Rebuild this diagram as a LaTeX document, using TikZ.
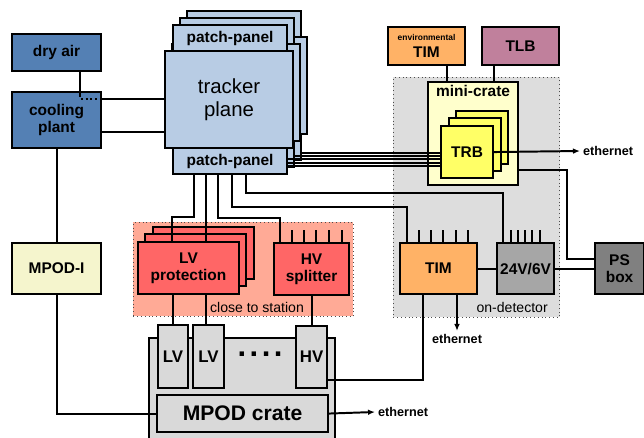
\documentclass[tikz,border=0pt]{standalone}
\usepackage{fontspec}
\setmainfont{Liberation Sans}
\usetikzlibrary{arrows.meta}

\tikzset{
  bx/.style={draw, line width=1.5pt, rectangle, inner sep=0pt, align=center, anchor=north west, font=\fontsize{11}{12}\selectfont\bfseries},
  sz/.style 2 args={minimum width=#1*0.025cm, minimum height=#2*0.025cm},
  region/.style={draw=black!70, dotted, line width=0.7pt, rectangle, inner sep=0pt, anchor=north west},
  wire/.style={line width=1.4pt},
  eth/.style={font=\fontsize{9}{10}\selectfont\bfseries, inner sep=2pt},
  lbl/.style={font=\fontsize{10}{11}\selectfont, inner sep=0pt},
}

\begin{document}
\begin{tikzpicture}[x=0.025cm, y=-0.025cm]
%
\useasboundingbox (0,0) rectangle (644,438);
%
\definecolor{cdry}{RGB}{84,128,180}
\definecolor{ctrk}{RGB}{184,204,228}
\definecolor{ctim}{RGB}{255,178,102}
\definecolor{ctlb}{RGB}{192,128,156}
\definecolor{cmini}{RGB}{255,255,204}
\definecolor{ctrb}{RGB}{255,255,102}
\definecolor{cdet}{RGB}{221,221,221}
\definecolor{cstat}{RGB}{255,170,150}
\definecolor{cprot}{RGB}{255,102,102}
\definecolor{cvolt}{RGB}{166,166,166}
\definecolor{cps}{RGB}{128,128,128}
\definecolor{cmpod}{RGB}{217,217,217}
\definecolor{cmpodi}{RGB}{245,245,205}
%
\node[region, fill=cdet, sz={166}{240}] (ondet) at (393,77) {};
\node[region, fill=cstat, sz={220}{94}] (station) at (133,222) {};
\node[lbl, anchor=east] (ondetlbl) at (548,307) {on-detector};
\node[lbl] (stationlbl) at (257,307) {close to station};
%
\node[bx, fill=cdry, sz={89}{37}] (dryair) at (11,33) {dry air};
\node[bx, fill=cdry, sz={89}{56}] (cooling) at (11,91) {cooling\\plant};
\node[bx, fill=cmpodi, sz={89}{51}] (mpodi) at (11,242) {MPOD-I};
%
\node[bx, fill=ctrk, sz={114}{26}] (ppt2) at (186,10) {};
\node[bx, fill=ctrk, sz={114}{26}] (ppb2) at (186,133) {};
\node[bx, fill=ctrk, sz={128}{97}] (trk2) at (178,36) {};
\node[bx, fill=ctrk, sz={114}{26}] (ppt1) at (179,17) {};
\node[bx, fill=ctrk, sz={114}{26}] (ppb1) at (179,140) {};
\node[bx, fill=ctrk, sz={128}{97}] (trk1) at (171,43) {};
\node[bx, fill=ctrk, sz={114}{26}] (ppt0) at (172,24) {patch-panel};
\node[bx, fill=ctrk, sz={114}{26}] (ppb0) at (172,147) {patch-panel};
\node[bx, fill=ctrk, sz={128}{97}, font=\fontsize{14.5}{16.5}\selectfont] (trk0) at (164,50) {tracker\\plane};
%
\node[bx, fill=ctim, sz={77}{38}] (envtim) at (387,26) {{\fontsize{6}{7}\selectfont environmental}\\TIM};
\node[bx, fill=ctlb, sz={77}{38}] (tlb) at (481,26) {TLB};
\node[bx, fill=cmini, sz={90}{103}, label={[font=\fontsize{11}{12}\selectfont\bfseries, anchor=north, inner sep=3pt]north:mini-crate}] (minicrate) at (427,81) {};
\node[bx, fill=ctrb, sz={52}{53}] (trb2) at (455,110) {};
\node[bx, fill=ctrb, sz={52}{53}] (trb1) at (448,117) {};
\node[bx, fill=ctrb, sz={52}{52}] (trb0) at (440,125) {TRB};
%
\node[bx, fill=ctim, sz={77}{51}] (tim) at (399,242) {TIM};
\node[bx, fill=cvolt, sz={57}{51}] (volt) at (496,242) {24V/6V};
\node[bx, fill=cps, sz={49}{51}] (psbox) at (594,242) {PS\\box};
%
\node[bx, fill=cprot, sz={101}{52}] (prot2) at (152,226) {};
\node[bx, fill=cprot, sz={101}{52}] (prot1) at (144,233) {};
\node[bx, fill=cprot, sz={101}{52}] (prot0) at (137,241) {LV\\protection};
\node[bx, fill=cprot, sz={75}{52}] (hvsplit) at (273,242) {HV\\splitter};
%
\node[bx, fill=cmpod, sz={186}{101}] (crate) at (148,337) {};
\node[bx, fill=cmpod, sz={30}{63}, font=\fontsize{12}{13}\selectfont\bfseries] (lv1) at (157,324) {LV};
\node[bx, fill=cmpod, sz={31}{63}, font=\fontsize{12}{13}\selectfont\bfseries] (lv2) at (192,324) {LV};
\node[bx, fill=cmpod, sz={31}{62}, font=\fontsize{12}{13}\selectfont\bfseries] (hv) at (295,325) {HV};
\node[font=\fontsize{22}{22}\selectfont\bfseries, inner sep=0pt] (dots) at (260,354) {.\hspace{2.5pt}.\hspace{2.5pt}.\hspace{2.5pt}.};
\node[bx, fill=cmpod, sz={171}{37}, font=\fontsize{15}{16}\selectfont\bfseries] (mpod) at (156,394) {MPOD crate};
%
\node[eth, anchor=west] (eth1) at (580,151) {ethernet};
\node[eth, anchor=north] (eth2) at (457,331) {ethernet};
\node[eth, anchor=west] (eth3) at (375,412) {ethernet};
%
\coordinate (dryin) at (80,95);
\draw[wire] (dryair.south -| dryin) -- (dryin);
\draw[wire, dotted] (dryin) |- (cooling.east |- 0,99);
\draw[wire] (cooling.east |- 0,99) -- (trk0.west |- 0,99);
\draw[wire] (cooling.east |- 0,132) -- (trk0.west |- 0,132);
\draw[wire] (cooling.south) -- (mpodi.north);
\draw[wire] (mpodi.south) |- (mpod.west);
\draw[wire, -{Latex[length=5pt,width=4pt]}] (mpod.east) -- (eth3.west);
%
\draw[wire] (ppb2.east |- 0,153) -- (trb0.west |- 0,153);
\draw[wire] (ppb1.east |- 0,156) -- (trb0.west |- 0,156);
\draw[wire] (ppb0.east |- 0,159) -- (trb0.west |- 0,159);
\draw[wire] (ppb0.east |- 0,163) -- (trb0.west |- 0,163);
\draw[wire] (ppb0.east |- 0,166) -- (trb0.west |- 0,166);
\draw[wire, -{Latex[length=5pt,width=4pt]}] (trb0.east) -- (eth1.west);
\draw[wire] (envtim.south -| 447,0) -- (minicrate.north -| 447,0);
\draw[wire] (tlb.south -| 494,0) -- (minicrate.north -| 494,0);
\draw[wire] (minicrate.east |- 0,170) -| (567,259) -- (psbox.west |- 0,259);
%
\draw[wire] (ppb0.south -| 194,0) |- (172,217) -- (prot0.north -| 172,0);
\draw[wire] (ppb0.south -| 206,0) -- (prot0.north -| 206,0);
\draw[wire] (ppb0.south -| 218,0) |- (280,218) -- (hvsplit.north -| 280,0);
\draw[wire] (ppb0.south -| 232,0) |- (407,207) -- (tim.north -| 407,0);
\draw[wire] (ppb0.south -| 246,0) |- (503,193) -- (volt.north -| 503,0);
%
\draw[wire] (prot0.south -| lv1) -- (lv1.north);
\draw[wire] (prot0.south -| 206,0) -- (lv2.north -| 206,0);
\draw[wire] (hvsplit.south) -- (hv.north);
\draw[wire] (tim.south -| 423,0) |- (hv.east |- 0,380);
\draw[wire, -{Latex[length=5pt,width=4pt]}] (tim.south -| eth2) -- (eth2.north);
\draw[wire] (tim.east) -- (volt.west);
\draw[wire] (volt.east) -- (psbox.west);
%
\draw[wire] (tim.north -| 419,0) -- ++(0,-12) (tim.north -| 431,0) -- ++(0,-12) (tim.north -| 443,0) -- ++(0,-12) (tim.north -| 456,0) -- ++(0,-12) (tim.north -| 468,0) -- ++(0,-12);
\draw[wire] (volt.north -| 511,0) -- ++(0,-12) (volt.north -| 518,0) -- ++(0,-12) (volt.north -| 525,0) -- ++(0,-12) (volt.north -| 532,0) -- ++(0,-12) (volt.north -| 540,0) -- ++(0,-12);
\draw[wire] (hvsplit.north -| 292,0) -- ++(0,-12) (hvsplit.north -| 304,0) -- ++(0,-12) (hvsplit.north -| 316,0) -- ++(0,-12) (hvsplit.north -| 329,0) -- ++(0,-12) (hvsplit.north -| 342,0) -- ++(0,-12);
%
\end{tikzpicture}
\end{document}
